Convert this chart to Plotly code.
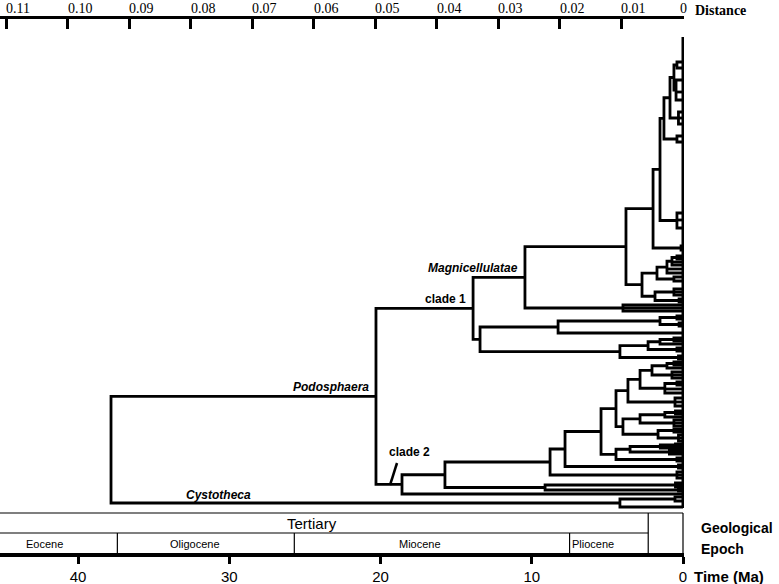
import plotly.graph_objects as go

# ---------------- data ----------------
dist_ticks = [0.11, 0.10, 0.09, 0.08, 0.07, 0.06, 0.05, 0.04, 0.03, 0.02, 0.01, 0.0]
dist_labels = ["0.11", "0.10", "0.09", "0.08", "0.07", "0.06", "0.05",
               "0.04", "0.03", "0.02", "0.01", "0"]
time_ticks = [40, 30, 20, 10, 0]
time_labels = ["40", "30", "20", "10", "0"]

epoch_names = ["Eocene", "Oligocene", "Miocene", "Pliocene"]
epoch_label_age = [42.2, 32.3, 17.4, 7.45]      # Ma, label positions
epoch_bounds = [37.4, 25.7, 7.5, 2.3]           # Ma, epoch boundaries
period_name = "Tertiary"
period_label_age = 24.5
period_end = 2.3

# Tree: [node age (Ma), child, child, ...]; a leaf is its tip row (top -> bottom order)
top_cluster = [1.26,
               [0.86,
                [0.60, [0.40, 62, 68], [0.46, 80, 92, 100]],
                [0.30, 112, 118, 124]],
               [0.40, 136, 142]]
n660 = [1.52, top_cluster, [0.40, 213, 220, 228]]
n653 = [1.98, n660, [0.13, 246, 250]]
n657 = [1.72, [1.06, [0.73, [0.40, 256, 259], 262, 265], 269, 273], [0.60, 277, 281]]
n655 = [1.85, [0.60, 289, 292, 295], [0.26, 299, 302]]
n642 = [2.71, n657, n655]
n626 = [3.77, n653, n642]
n623 = [3.97, 305, 308, 311]
magnicellulatae = [10.45, n626, n623]
n558 = [8.26, [1.52, [0.40, 316, 319], [0.26, 323, 326]], 333]
n620 = [4.17, [2.31, [1.52, [0.60, 338, 341], 344], [0.40, 348, 351]], [0.30, 356, 359]]
n480 = [13.42, n558, n620]
clade1 = [13.88, magnicellulatae, n480]

stairs = [2.05, [1.06, [0.60, 362, 365], 368], [0.73, 372, 375, 378]]
n640 = [2.84, stairs, [1.20, [0.40, 382, 385], 389, 393]]
n628 = [3.64, n640, [0.53, 398, 402, 406]]
n640b = [2.84, [1.20, [0.50, 411, 414], 417], [0.60, 420, 423, 426]]
n658 = [1.65, [0.60, 429, 432], [0.30, 435, 438, 441]]
n624 = [3.97, n640b, n658]
n616 = [4.43, n628, n624]
n630 = [3.50, [1.50, [0.50, 444, 446], 448], [0.90, 450, 452, 454]]
n616b = [4.43, n630, [0.40, 458, 461]]
n601 = [5.42, n616, n616b]
n565 = [7.80, n601, [0.30, 465, 468]]
n550 = [8.79, n565, [0.40, 472, 475, 478]]
n545 = [9.12, [0.50, 483, 485, 487], [0.30, 489, 491]]
n445 = [15.74, n550, n545]
clade2 = [18.58, n445, 494]
podosphaera = [20.30, clade1, clade2]
cystotheca = [4.17, [0.53, 497, 501], 507]
root = [37.82, podosphaera, cystotheca]

# ---------------- layout of the dendrogram ----------------
xs, ys = [], []
pos = {}


def place(node):
    if not isinstance(node, list):
        return 0.0, float(node)
    age = node[0]
    kids = [place(c) for c in node[1:]]
    (a0, y0), (a1, y1) = kids[0], kids[-1]
    xs.extend([a0, age, age, a1, None])
    ys.extend([y0, y0, y1, y1, None])
    for a, y in kids[1:-1]:
        xs.extend([age, a, None])
        ys.extend([y, y, None])
    yc = (y0 + y1) / 2.0
    pos[id(node)] = (age, yc)
    return age, yc


place(root)

fig = go.Figure()
fig.add_trace(go.Scatter(x=xs, y=ys, mode="lines",
                         line=dict(color="black", width=2.8),
                         hoverinfo="skip", showlegend=False))
fig.add_trace(go.Scatter(x=dist_ticks, y=[None] * len(dist_ticks), xaxis="x2", yaxis="y",
                         mode="markers", hoverinfo="skip", showlegend=False))

# plot area spans rows 19..553 (top axis .. bottom axis)
Y_TOP, Y_BOT = 19, 553


def py(row):
    """row (tip-order units) -> paper fraction, for labels outside the plot area"""
    return (Y_BOT - row) / (Y_BOT - Y_TOP)


shapes = []
# tip line
shapes.append(dict(type="line", xref="x", yref="y", x0=0, x1=0, y0=37, y1=508,
                   line=dict(color="black", width=3)))
# geological epoch box
box_top, box_mid, box_bot = 513, 533, 553
left_age = 45.2
thin = dict(color="black", width=1.2)
shapes.append(dict(type="line", xref="x", yref="y", x0=left_age, x1=0, y0=box_top, y1=box_top, line=thin))
shapes.append(dict(type="line", xref="x", yref="y", x0=0, x1=0, y0=box_top, y1=box_bot, line=thin))
shapes.append(dict(type="line", xref="x", yref="y", x0=left_age, x1=period_end, y0=box_mid, y1=box_mid, line=thin))
shapes.append(dict(type="line", xref="x", yref="y", x0=period_end, x1=period_end, y0=box_top, y1=box_bot, line=thin))
for b in epoch_bounds[:-1]:
    shapes.append(dict(type="line", xref="x", yref="y", x0=b, x1=b, y0=box_mid, y1=box_bot, line=thin))
# clade 2 marker
shapes.append(dict(type="line", xref="x", yref="y", x0=18.91, x1=19.37, y0=463, y1=485,
                   line=dict(color="black", width=2.5)))

ann = []
sans = "Liberation Sans"
serif = "Liberation Serif"
lab_font = dict(family=sans, size=12, color="black")
for node, txt in [(magnicellulatae, "<b><i>Magnicellulatae</i></b>"),
                  (clade1, "<b>clade 1</b>"),
                  (podosphaera, "<b><i>Podosphaera</i></b>")]:
    a, y = pos[id(node)]
    ann.append(dict(x=a + 0.35, y=y - 9, xref="x", yref="y", text=txt, showarrow=False,
                    xanchor="right", yanchor="middle", font=lab_font))
ann.append(dict(x=19.6, y=452, xref="x", yref="y", text="<b>clade 2</b>", showarrow=False,
                xanchor="left", yanchor="middle", font=lab_font))
ann.append(dict(x=30.7, y=495, xref="x", yref="y", text="<b><i>Cystotheca</i></b>", showarrow=False,
                xanchor="center", yanchor="middle", font=lab_font))
for name, a in zip(epoch_names, epoch_label_age):
    ann.append(dict(x=a, y=544, xref="x", yref="y", text=name, showarrow=False,
                    xanchor="left" if name == "Pliocene" else "center", yanchor="middle",
                    font=dict(family=sans, size=11, color="black")))
ann.append(dict(x=period_label_age, y=523, xref="x", yref="y", text=period_name, showarrow=False,
                xanchor="center", yanchor="middle", font=dict(family=sans, size=15, color="black")))
# distance tick labels (left-aligned at their ticks, as in the original)
for v, t in zip(dist_ticks, dist_labels):
    ann.append(dict(x=v, y=py(8), xref="x2", yref="paper", text=t, showarrow=False,
                    xanchor="left" if t != "0" else "center", xshift=-2 if t != "0" else 0,
                    yanchor="middle", font=dict(family=serif, size=14, color="black")))
ann.append(dict(x=693 / 684, y=py(11), xref="paper", yref="paper", text="<b>Distance</b>",
                showarrow=False, xanchor="left", yanchor="middle",
                font=dict(family=serif, size=14, color="black")))
ann.append(dict(x=699 / 684, y=py(528), xref="paper", yref="paper", text="<b>Geological</b>",
                showarrow=False, xanchor="left", yanchor="middle",
                font=dict(family=sans, size=14, color="black")))
ann.append(dict(x=699 / 684, y=py(549), xref="paper", yref="paper", text="<b>Epoch</b>",
                showarrow=False, xanchor="left", yanchor="middle",
                font=dict(family=sans, size=14, color="black")))
ann.append(dict(x=692 / 684, y=py(576), xref="paper", yref="paper", text="<b>Time (Ma)</b>",
                showarrow=False, xanchor="left", yanchor="middle",
                font=dict(family=sans, size=15, color="black")))

fig.update_layout(
    width=779, height=584,
    margin=dict(l=0, r=95, t=19, b=31, autoexpand=False),
    paper_bgcolor="white", plot_bgcolor="white",
    showlegend=False,
    shapes=shapes, annotations=ann,
    xaxis=dict(range=[45.16, -0.066], showline=True, linewidth=4, linecolor="black",
               ticks="outside", ticklen=7, tickwidth=3, tickcolor="black",
               tickvals=time_ticks, ticktext=time_labels,
               tickfont=dict(family=sans, size=15, color="black"),
               showgrid=False, zeroline=False),
    xaxis2=dict(range=[0.110975, -0.000162], overlaying="x", side="top", anchor="y",
                showline=True, linewidth=3, linecolor="black",
                ticks="inside", ticklen=10, tickwidth=3, tickcolor="black",
                tickvals=dist_ticks, showticklabels=False,
                showgrid=False, zeroline=False),
    yaxis=dict(range=[Y_BOT, Y_TOP], showgrid=False, zeroline=False, showticklabels=False,
               showline=False, ticks=""),
)

fig.write_html("out.html", config={"displayModeBar": False},
               post_script="document.body.style.margin='0px';document.body.style.padding='0px';")
